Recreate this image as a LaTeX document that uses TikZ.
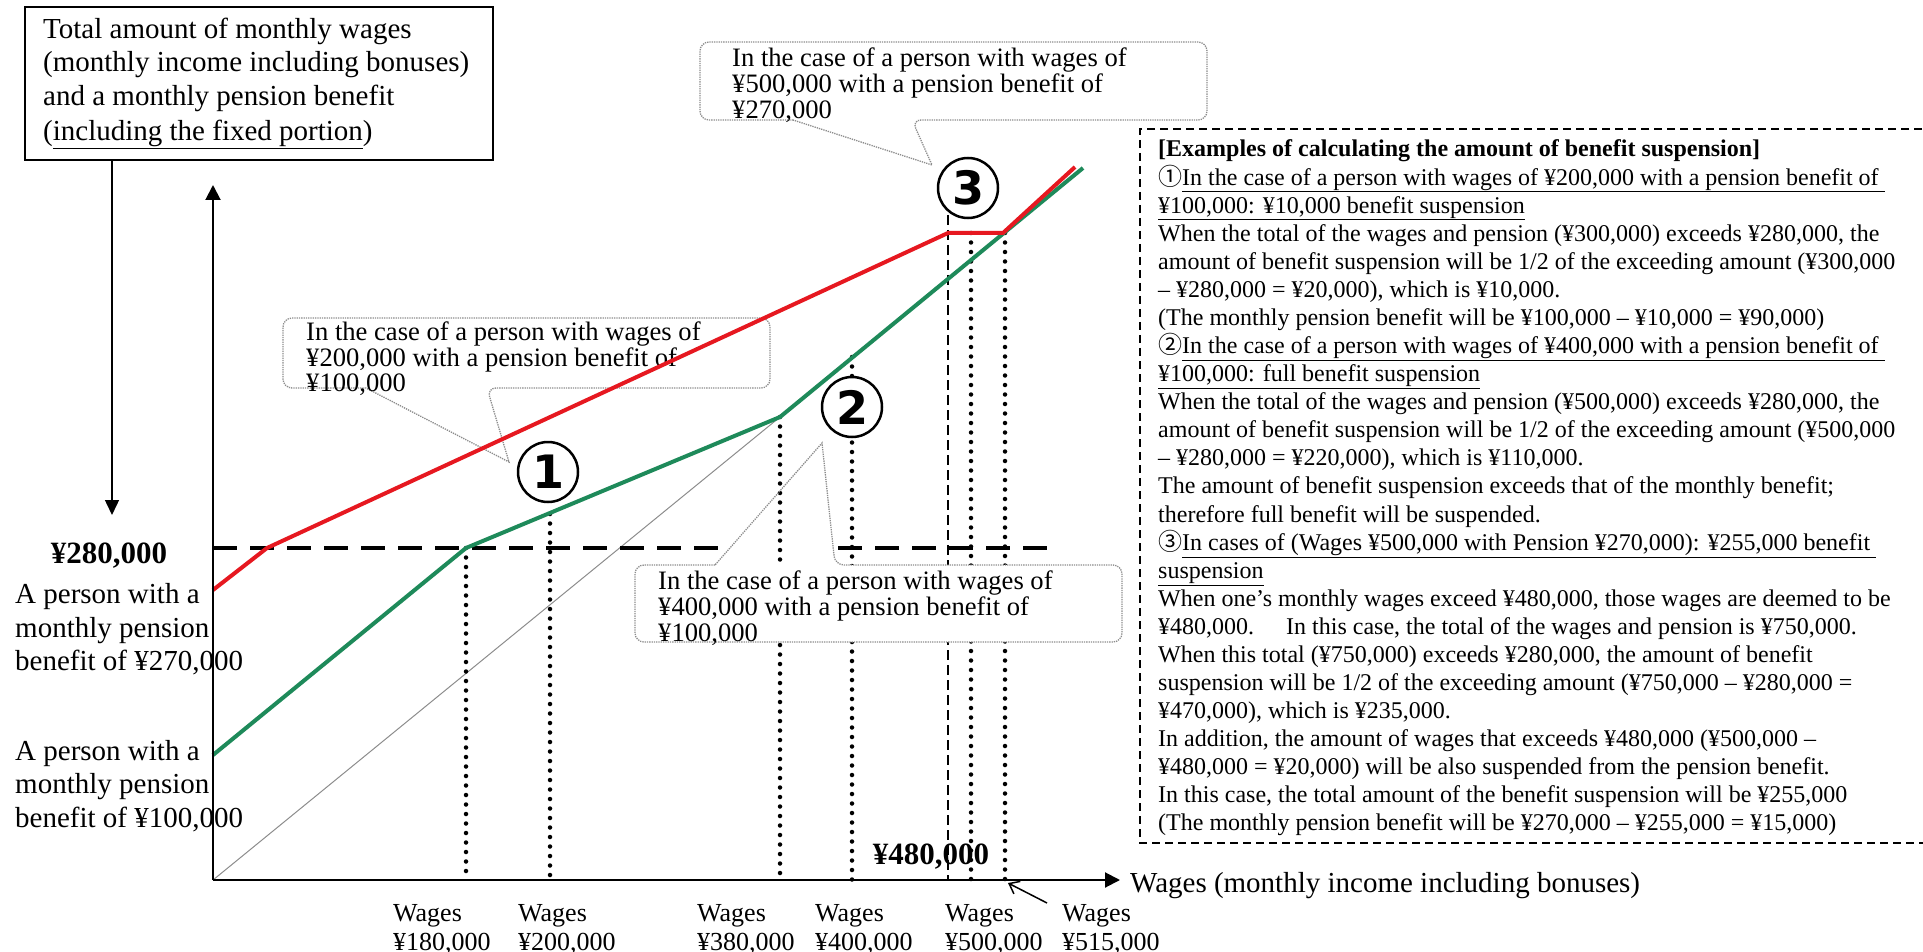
\documentclass[tikz,border=0pt]{standalone}
\usepackage{fontspec}
\setmainfont{Liberation Serif}
\newfontfamily\cjkfont{Noto Sans CJK JP}
\newfontfamily\numfont{DejaVu Sans}
\usetikzlibrary{arrows.meta}
\newcommand\myfs[2]{\fontsize{#1}{#2}\selectfont}
\definecolor{pred}{RGB}{230,24,32}
\definecolor{pgreen}{RGB}{30,138,90}
\tikzset{
  callout/.style={draw=black!45, densely dotted, line width=1.3pt, rounded corners=9pt},
  ctext/.style={anchor=base west, inner sep=0pt, font=\myfs{26.6}{26}},
  ltext/.style={anchor=base west, inner sep=0pt, font=\myfs{29}{33}},
  wtext/.style={anchor=base west, inner sep=0pt, font=\myfs{26}{30}},
  rtext/.style={anchor=base west, inner sep=0pt, font=\myfs{24}{28}},
  btext/.style={anchor=base, inner sep=0pt, font=\myfs{31}{34}\bfseries},
  dotv/.style={line width=4.5pt, dash pattern=on 0pt off 9.5pt, line cap=round},
  dashh/.style={line width=4pt, dash pattern=on 24pt off 13pt},
  dashv/.style={line width=1.6pt, dash pattern=on 10pt off 5pt},
  rdash/.style={line width=2pt, dash pattern=on 8pt off 5pt},
  axis/.style={line width=2pt, -{Triangle[length=15pt,width=15pt]}},
  numc/.style={circle, draw, line width=2.5pt, fill=white, minimum size=60pt, inner sep=0pt,
    font=\numfont\bfseries\myfs{46}{46}},
}
\begin{document}
\begin{tikzpicture}[x=1pt,y=-1pt]
\useasboundingbox (0,0) rectangle (1923,952);

% ---- callout 1 (under the curves)
\filldraw[callout, fill=white] (366,388) -- (283,388) -- (283,318) -- (770,318) -- (770,388) -- (487,388) [sharp corners] -- (509,462) -- cycle;
\node[ctext] (c1a) at (306,340.5) {In the case of a person with wages of};
\node[ctext] (c1b) at (306,366.5) {¥200,000 with a pension benefit of};
\node[ctext] (c1c) at (306,391) {¥100,000};

% ---- callout 3
\filldraw[callout, fill=white] (793,120) -- (700,120) -- (700,42) -- (1207,42) -- (1207,120) -- (912,120) [sharp corners] -- (932,165) -- cycle;
\node[ctext] (c3a) at (732,67) {In the case of a person with wages of};
\node[ctext] (c3b) at (732,93) {¥500,000 with a pension benefit of};
\node[ctext] (c3c) at (732,119) {¥270,000};

% ---- reference lines
\coordinate (O) at (213,880);
\coordinate (K) at (780,417);
\draw[black!45, line width=1pt] (O) -- (K);
\draw[dashh] (213,548) -- (727,548);
\draw[dashh] (838,548) -- (1053,548);
\draw[dotv] (466,548) -- (466,880);
\draw[dotv] (550,514) -- (550,880);
\draw[dotv] (780,417) -- (780,880);
\draw[dotv] (852,357) -- (852,880);
\draw[dashv] (948,215) -- (948,880);
\draw[dotv] (971,233) -- (971,880);
\draw[dotv] (1005,233) -- (1005,880);

% ---- callout 2 (over the vertical lines)
\fill[white, rounded corners=9pt] (635,565) rectangle (1122,642);
\draw[callout] (715,565) -- (635,565) -- (635,642) -- (1122,642) -- (1122,565) -- (835,565) [sharp corners] -- (822,443) -- cycle;
\node[ctext] (c2a) at (658,589) {In the case of a person with wages of};
\node[ctext] (c2b) at (658,615) {¥400,000 with a pension benefit of};
\node[ctext] (c2c) at (658,641) {¥100,000};

% ---- curves
\draw[pgreen, line width=4pt, line join=round] (213,755) -- (466,548) -- (K) -- (1083,168);
\draw[pred, line width=4pt, line join=round] (213,590) -- (267,548) -- (948,233) -- (1003,233) -- (1075,167);

% ---- circled numbers
\node[numc] (n1) at (548,472) {1};
\node[numc] (n2) at (852,407) {2};
\node[numc] (n3) at (968,188) {3};

% ---- axes
\draw[axis] (O) -- (213,185);
\draw[axis] (O) -- (1120,880);

% ---- top-left box
\draw[line width=2.5pt] (25,7) rectangle (493,160);
\node[ltext] (t1) at (43,39) {Total amount of monthly wages};
\node[ltext] (t2) at (43,72) {(monthly income including bonuses)};
\node[ltext] (t3) at (43,106) {and a monthly pension benefit};
\node[ltext] (t4) at (43,141) {(\underline{including the fixed portion})};
\coordinate (dtop) at (112,160);
\coordinate (dbot) at (112,515);
\draw[line width=1.5pt, -{Triangle[length=15pt,width=14pt]}] (dtop) -- (dbot);

% ---- left labels
\node[btext] (y280) at (109,563) {¥280,000};
\node[ltext] (p1a) at (15,603) {A person with a};
\node[ltext] (p1b) at (15,637) {monthly pension};
\node[ltext] (p1c) at (15,670) {benefit of ¥270,000};
\node[ltext] (p2a) at (15,760) {A person with a};
\node[ltext] (p2b) at (15,793) {monthly pension};
\node[ltext] (p2c) at (15,827) {benefit of ¥100,000};

% ---- x axis labels
\node[ltext] (xlab) at (1130,892) {Wages (monthly income including bonuses)};
\node[btext] (x480) at (931,864) {¥480,000};
\node[wtext] (w1a) at (393,921) {Wages};
\node[wtext] (w1b) at (393,950) {¥180,000};
\node[wtext] (w2a) at (518,921) {Wages};
\node[wtext] (w2b) at (518,950) {¥200,000};
\node[wtext] (w3a) at (697,921) {Wages};
\node[wtext] (w3b) at (697,950) {¥380,000};
\node[wtext] (w4a) at (815,921) {Wages};
\node[wtext] (w4b) at (815,950) {¥400,000};
\node[wtext] (w5a) at (945,921) {Wages};
\node[wtext] (w5b) at (945,950) {¥500,000};
\node[wtext] (w6a) at (1062,921) {Wages};
\node[wtext] (w6b) at (1062,950) {¥515,000};
\coordinate (atail) at (1047,903);
\coordinate (ahead) at (1008,883);
\draw[line width=1.5pt, -{Straight Barb[length=9pt,width=14pt]}] (atail) -- (ahead);

% ---- right explanation box
\draw[rdash] (1935,129) -- (1140,129) -- (1140,843) -- (1935,843);
\foreach \txt [count=\i from 0] in {
 {\textbf{[Examples of calculating the amount of benefit suspension]}},
 {{\cjkfont ①}\underline{In the case of a person with wages of ¥200,000 with a pension benefit of\ }},
 {\underline{¥100,000: ¥10,000 benefit suspension}},
 {When the total of the wages and pension (¥300,000) exceeds ¥280,000, the},
 {amount of benefit suspension will be 1/2 of the exceeding amount (¥300,000},
 {– ¥280,000 = ¥20,000), which is ¥10,000.},
 {(The monthly pension benefit will be ¥100,000 – ¥10,000 = ¥90,000)},
 {{\cjkfont ②}\underline{In the case of a person with wages of ¥400,000 with a pension benefit of\ }},
 {\underline{¥100,000: full benefit suspension}},
 {When the total of the wages and pension (¥500,000) exceeds ¥280,000, the},
 {amount of benefit suspension will be 1/2 of the exceeding amount (¥500,000},
 {– ¥280,000 = ¥220,000), which is ¥110,000.},
 {The amount of benefit suspension exceeds that of the monthly benefit;},
 {therefore full benefit will be suspended.},
 {{\cjkfont ③}\underline{In cases of (Wages ¥500,000 with Pension ¥270,000): ¥255,000 benefit\ }},
 {\underline{suspension}},
 {When one’s monthly wages exceed ¥480,000, those wages are deemed to be},
 {¥480,000.\hspace{1em} In this case, the total of the wages and pension is ¥750,000.},
 {When this total (¥750,000) exceeds ¥280,000, the amount of benefit},
 {suspension will be 1/2 of the exceeding amount (¥750,000 – ¥280,000 =},
 {¥470,000), which is ¥235,000.},
 {In addition, the amount of wages that exceeds ¥480,000 (¥500,000 –},
 {¥480,000 = ¥20,000) will be also suspended from the pension benefit.},
 {In this case, the total amount of the benefit suspension will be ¥255,000},
 {(The monthly pension benefit will be ¥270,000 – ¥255,000 = ¥15,000)}
}{
  \node[rtext] (r\i) at (1158,{157+28.08*\i}) {\txt};
}
\end{tikzpicture}
\end{document}
